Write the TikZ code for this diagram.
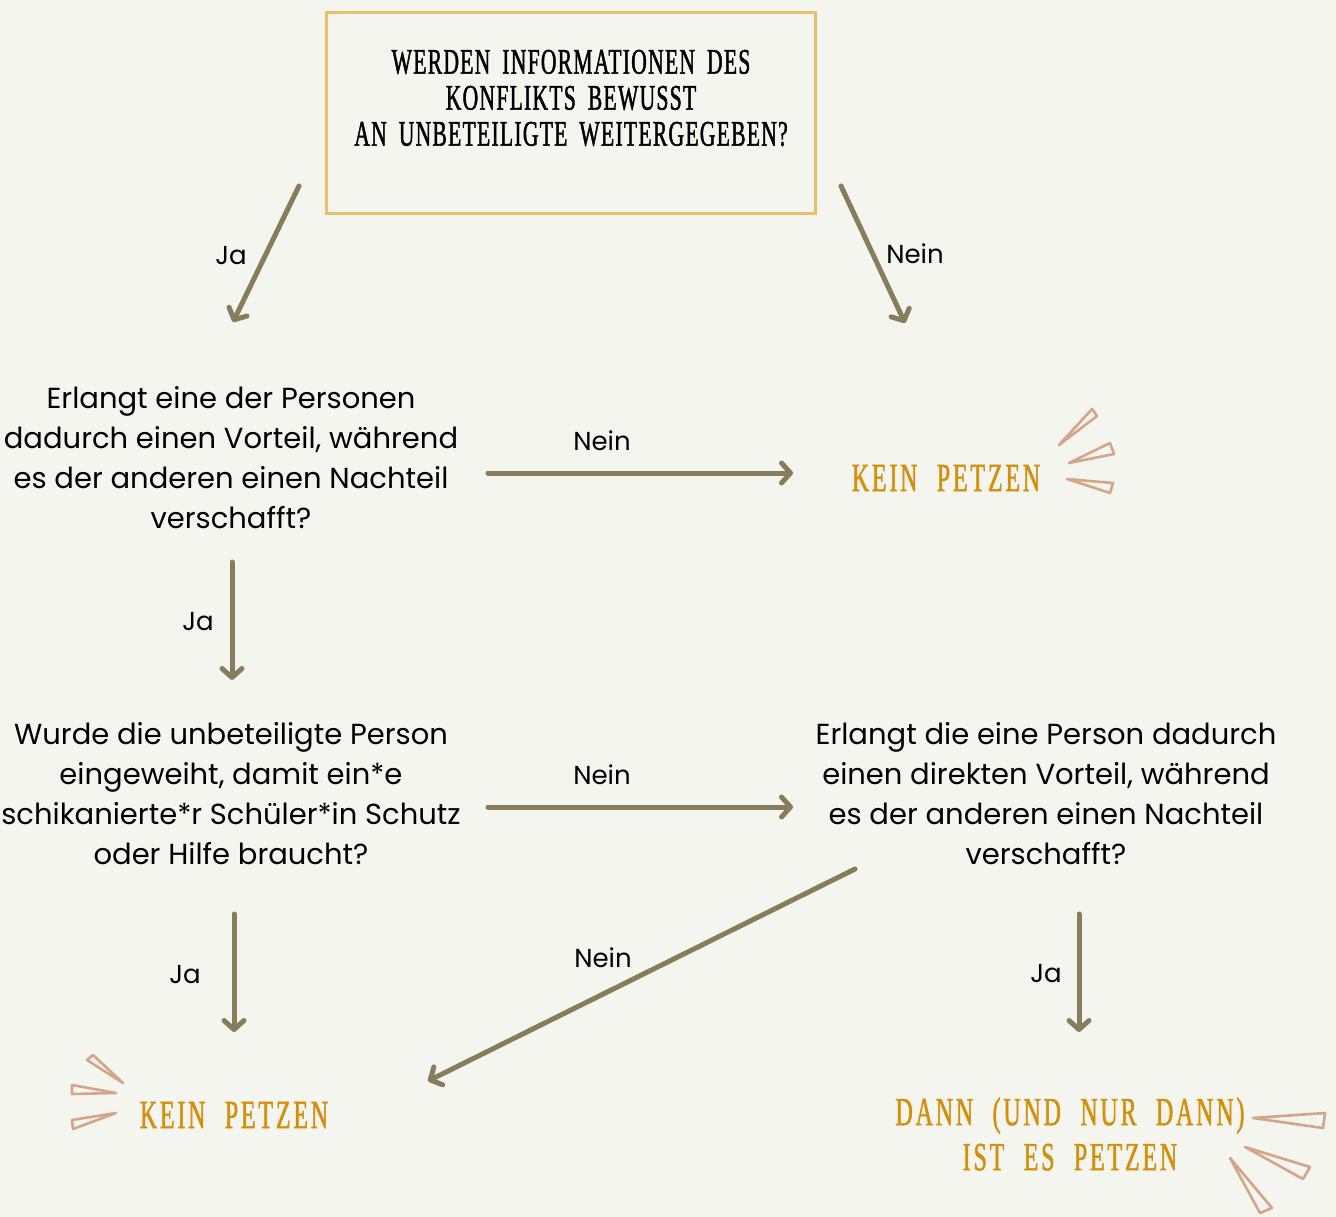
\documentclass[tikz,border=0pt]{standalone}
\usepackage{fontspec}
\setmainfont{Poppins}
\newfontfamily\disp[FakeStretch=0.6,FakeBold=1.2,LetterSpace=7,WordSpace=2.2]{Liberation Serif}
\newfontfamily\tdisp[FakeStretch=0.6,FakeBold=1.2,LetterSpace=3.5,WordSpace=1.8]{Liberation Serif}
\usetikzlibrary{arrows.meta}
\definecolor{bg}{HTML}{F4F5EF}
\definecolor{olive}{HTML}{857D5C}
\definecolor{gold}{HTML}{E6C06A}
\definecolor{amber}{HTML}{D48F0C}
\definecolor{ray}{HTML}{D4A588}
\tikzset{
  flow/.style={draw=olive,line width=5pt,line cap=round,-{Straight Barb[length=9pt,width=20pt,line cap=round,line join=round]}},
  quest/.style={align=center,font=\fontsize{29}{40}\selectfont,inner sep=0pt},
  lbl/.style={font=\fontsize{26}{28}\selectfont,inner sep=0pt},
  result/.style={align=center,text=amber,font=\disp\fontsize{40}{45}\selectfont,inner sep=0pt},
  raystyle/.style={draw=ray,line width=2.6pt,line join=round},
}
\begin{document}
\begin{tikzpicture}[x=1pt,y=-1pt]
\fill[bg] (0,0) rectangle (1336,1217);
\useasboundingbox (0,0) rectangle (1336,1217);
% title box
\node[draw=gold,line width=3pt,minimum width=489pt,minimum height=201pt,inner sep=0pt] (title) at (571,113) {};
\node[align=center,font=\tdisp\fontsize{36}{36}\selectfont,inner sep=0pt] (titletext) at (571,98) {WERDEN INFORMATIONEN DES\\KONFLIKTS BEWUSST\\AN UNBETEILIGTE WEITERGEGEBEN?};
% questions
\node[quest] (q1) at (231,458) {Erlangt eine der Personen\\dadurch einen Vorteil, während\\es der anderen einen Nachteil\\verschafft?};
\node[quest] (q2) at (231,794) {Wurde die unbeteiligte Person\\eingeweiht, damit ein*e\\schikanierte*r Schüler*in Schutz\\oder Hilfe braucht?};
\node[quest] (q3) at (1046,794) {Erlangt die eine Person dadurch\\einen direkten Vorteil, während\\es der anderen einen Nachteil\\verschafft?};
% results
\node[result] (r1) at (946,478) {KEIN PETZEN};
\node[result] (r2) at (234,1115) {KEIN PETZEN};
\node[result] (r3) at (1070,1134) {DANN (UND NUR DANN)\\IST ES PETZEN};
% connector coordinates
\coordinate (a1s) at (299,186); \coordinate (a1e) at (233,322);
\coordinate (a2s) at (841,186); \coordinate (a2e) at (905,323);
\coordinate (a3s) at (488,473); \coordinate (a3e) at (793,473);
\coordinate (a4s) at (232,562); \coordinate (a4e) at (232,680);
\coordinate (a5s) at (488,807); \coordinate (a5e) at (793,807);
\coordinate (a6s) at (234,914); \coordinate (a6e) at (234,1032);
\coordinate (a7s) at (855,869); \coordinate (a7e) at (428,1081);
\coordinate (a8s) at (1079,914); \coordinate (a8e) at (1079,1032);
\draw[flow] (a1s) -- (a1e);
\draw[flow] (a2s) -- (a2e);
\draw[flow] (a3s) -- (a3e);
\draw[flow] (a4s) -- (a4e);
\draw[flow] (a5s) -- (a5e);
\draw[flow] (a6s) -- (a6e);
\draw[flow] (a7s) -- (a7e);
\draw[flow] (a8s) -- (a8e);
% labels
\node[lbl] (l1) at (231,256) {Ja};
\node[lbl] (l2) at (915,254) {Nein};
\node[lbl] (l3) at (602,441) {Nein};
\node[lbl] (l4) at (198,622) {Ja};
\node[lbl] (l5) at (602,775) {Nein};
\node[lbl] (l6) at (185,975) {Ja};
\node[lbl] (l7) at (603,958) {Nein};
\node[lbl] (l8) at (1046,974) {Ja};
% rays top right
\draw[raystyle] (1059,445) -- (1092,409) -- (1097,416) -- cycle;
\draw[raystyle] (1069,463) -- (1110,443) -- (1114,454) -- cycle;
\draw[raystyle] (1067,479) -- (1113,483) -- (1110,493) -- cycle;
% rays bottom left
\draw[raystyle] (123,1083) -- (87,1060) -- (93,1055) -- cycle;
\draw[raystyle] (116,1093) -- (72,1085) -- (72,1094) -- cycle;
\draw[raystyle] (116,1113) -- (72,1120) -- (73,1129) -- cycle;
% rays bottom right
\draw[raystyle] (1253,1118) -- (1325,1113) -- (1323,1128) -- cycle;
\draw[raystyle] (1245,1147) -- (1310,1167) -- (1303,1179) -- cycle;
\draw[raystyle] (1230,1158) -- (1272,1208) -- (1260,1213) -- cycle;
\end{tikzpicture}
\end{document}
